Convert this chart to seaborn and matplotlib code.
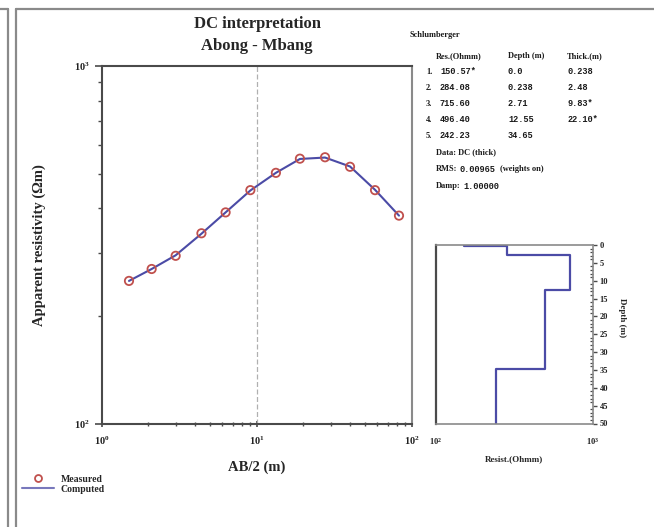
import numpy as np
import pandas as pd
import matplotlib
matplotlib.use("Agg")
import matplotlib.pyplot as plt
from matplotlib.lines import Line2D
from matplotlib.ticker import LogLocator, NullFormatter, FixedLocator, MultipleLocator
import seaborn as sns

# Sounding curve: half electrode spacing and apparent resistivity
ab2 = [1.5, 2.1, 3.0, 4.4, 6.3, 9.1, 13.3, 19.0, 27.6, 40.0, 58.0, 82.8]
rho_measured = [251, 271, 295, 341, 390, 450, 503, 551, 556, 523, 450, 382]
rho_computed = [251, 271, 296, 340, 390, 449, 503, 550, 555, 524, 451, 382]

# Layered model
layer_res = [150.57, 284.08, 715.60, 496.40, 242.23]
layer_depth = [0.0, 0.238, 2.71, 12.55, 34.65]
layer_thick = [0.238, 2.48, 9.83, 22.10]
res_fixed = [True, False, False, False, False]
thick_fixed = [False, False, True, True]
depth_str = ["0.0", "0.238", "2.71", "12.55", "34.65"]
thick_str = ["0.238", "2.48", "9.83", "22.10"]
max_depth = 50

rms = 0.00965
damp = 1.0

sns.set_theme(style="white")
plt.rcParams["font.family"] = ["Liberation Serif", "DejaVu Serif"]
plt.rcParams["mathtext.fontset"] = "custom"
plt.rcParams["mathtext.rm"] = "Liberation Serif:bold"
plt.rcParams["mathtext.it"] = "Liberation Serif:bold"
plt.rcParams["mathtext.bf"] = "Liberation Serif:bold"

W, H = 654, 527
fig = plt.figure(figsize=(W / 100, H / 100), dpi=100)
fig.patch.set_facecolor("white")


def px(x, y):
    return x / W, 1 - y / H


# page frame lines
frame_kw = dict(color="#8a8a8a", lw=1.6, transform=fig.transFigure)
fig.add_artist(Line2D([8 / W, 8 / W], [0, 1 - 9 / H], **frame_kw))
fig.add_artist(Line2D([0, 8 / W], [1 - 9 / H, 1 - 9 / H], **frame_kw))
fig.add_artist(Line2D([16 / W, 16 / W], [0, 1 - 9 / H], **frame_kw))
fig.add_artist(Line2D([16 / W, 1], [1 - 9 / H, 1 - 9 / H], **frame_kw))

line_color = "#4b4ba6"
marker_color = "#c0504d"
spine_color = "#4a4a4a"

# ---- sounding curve ----
ax = fig.add_axes([101.7 / W, 1 - 424 / H, 310 / W, 358 / H])
df = pd.DataFrame({"ab2": ab2, "measured": rho_measured, "computed": rho_computed})
sns.lineplot(data=df, x="ab2", y="computed", ax=ax, color=line_color, lw=1.5,
             sort=True, zorder=2)
sns.scatterplot(data=df, x="ab2", y="measured", ax=ax, marker="o", s=36,
                facecolor="none", edgecolor=marker_color, linewidth=1.3, zorder=3)
ax.set_xscale("log")
ax.set_yscale("log")
ax.set_xlim(1, 100)
ax.set_ylim(100, 1000)
ax.axvline(10, color="#b0b0b0", lw=0.9, ls=(0, (4, 2)), zorder=1)

ax.xaxis.set_major_locator(FixedLocator([1, 10, 100]))
ax.yaxis.set_major_locator(FixedLocator([100, 1000]))
ax.xaxis.set_minor_locator(LogLocator(base=10, subs=np.arange(2, 10)))
ax.yaxis.set_minor_locator(LogLocator(base=10, subs=np.arange(2, 10)))
ax.xaxis.set_minor_formatter(NullFormatter())
ax.yaxis.set_minor_formatter(NullFormatter())
ax.set_xticklabels([r"$10^0$", r"$10^1$", r"$10^2$"])
ax.set_yticklabels([r"$10^2$", r"$10^3$"])
ax.tick_params(axis="both", which="major", labelsize=7.5, colors=spine_color,
               labelcolor="#222222", length=5, width=1.2)
ax.tick_params(axis="x", which="both", direction="inout", bottom=True)
ax.tick_params(axis="x", which="minor", length=3, width=1.0, colors=spine_color)
ax.tick_params(axis="y", which="both", direction="out", left=True)
ax.tick_params(axis="y", which="minor", length=3, width=1.0, colors=spine_color)
ax.tick_params(axis="x", which="major", pad=5)
for sp in ax.spines.values():
    sp.set_color(spine_color)
    sp.set_linewidth(1.5)
ax.spines["right"].set_color("#8a8a8a")
ax.set_xlabel("AB/2 (m)", fontsize=10.5, fontweight="bold", labelpad=10)
ax.set_ylabel("Apparent resistivity (\u03a9m)", fontsize=10.5, fontweight="bold",
              labelpad=20)
ax.grid(False)

fig.text(*px(257, 24), "DC interpretation", ha="center", va="center",
         fontsize=12, fontweight="bold")
fig.text(*px(257, 46), "Abong - Mbang", ha="center", va="center",
         fontsize=12, fontweight="bold")

# legend
handles = [
    Line2D([], [], ls="none", marker="o", markersize=5, markerfacecolor="none",
           markeredgecolor=marker_color, markeredgewidth=1.3),
    Line2D([], [], color=line_color, lw=1.5, alpha=0.75),
]
fig.legend(handles, ["Measured", "Computed"], loc="upper left",
           bbox_to_anchor=px(15, 468), frameon=False,
           prop={"weight": "bold", "size": 7}, handlelength=3.3,
           handletextpad=0.7, labelspacing=0.1, borderpad=0.2)

# ---- layered model ----
ax2 = fig.add_axes([436 / W, 1 - 423.5 / H, 156.5 / W, 178.5 / H])
tops = layer_depth
bottoms = layer_depth[1:] + [max_depth]
xs, ys = [], []
for r, t, b in zip(layer_res, tops, bottoms):
    xs += [r, r]
    ys += [t, b]
model = pd.DataFrame({"res": xs, "depth": ys})
sns.lineplot(data=model, x="res", y="depth", ax=ax2, sort=False,
             estimator=None, color=line_color, lw=1.6)
ax2.set_xscale("log")
ax2.set_xlim(100, 1000)
ax2.set_ylim(max_depth, 0)
ax2.xaxis.set_major_locator(FixedLocator([100, 1000]))
ax2.xaxis.set_minor_locator(FixedLocator([]))
ax2.set_xticklabels([r"$10^2$", r"$10^3$"])
ax2.tick_params(axis="x", which="major", length=0, labelsize=6, pad=9,
                labelcolor="#222222")
ax2.yaxis.tick_right()
ax2.yaxis.set_major_locator(MultipleLocator(5))
ax2.yaxis.set_minor_locator(MultipleLocator(1))
ax2.tick_params(axis="y", which="major", direction="out", length=3, width=1.0,
                labelsize=6, pad=2, colors=spine_color, labelcolor="#222222")
ax2.tick_params(axis="y", which="minor", direction="in", length=2.5, width=0.9,
                colors=spine_color, right=True)
for lab in ax2.get_yticklabels():
    lab.set_fontweight("bold")
for sp in ax2.spines.values():
    sp.set_color("#8a8a8a")
    sp.set_linewidth(1.2)
ax2.spines["left"].set_color(spine_color)
ax2.spines["left"].set_linewidth(1.6)
ax2.set_xlabel("Resist.(Ohmm)", fontsize=6.5, fontweight="bold", labelpad=6)
ax2.set_ylabel("")
ax2.grid(False)
fig.text(*px(622, 318), "Depth (m)", rotation=270, ha="center", va="center",
         fontsize=6.5, fontweight="bold")

# ---- model table ----
tk = dict(fontsize=6, fontweight="bold", va="center", color="#1a1a1a")
mono = dict(fontsize=6.2, fontweight="bold", va="center", color="#1a1a1a",
            family=["Liberation Mono", "DejaVu Sans Mono"])
fig.text(*px(410, 35), "Schlumberger", **tk)
fig.text(*px(436, 56), "Res.(Ohmm)", **tk)
fig.text(*px(508, 56), "Depth (m)", **tk)
fig.text(*px(567, 56), "Thick.(m)", **tk)
row_y = [72, 88, 104, 120, 136]
for i, (r, d) in enumerate(zip(layer_res, depth_str)):
    y = row_y[i]
    fig.text(*px(426, y), f"{i + 1}.", **tk)
    fig.text(*px(440, y), f"{r:.2f}" + ("*" if res_fixed[i] else ""), **mono)
    fig.text(*px(508, y), d, **mono)
    if i < len(layer_thick):
        fig.text(*px(567, y), thick_str[i] + ("*" if thick_fixed[i] else ""), **mono)
fig.text(*px(436, 152), "Data: DC (thick)", **tk)
fig.text(*px(436, 169), "RMS:", **tk)
fig.text(*px(459, 169), f"{rms:.5f}", **mono)
fig.text(*px(500, 169), "(weights on)", **tk)
fig.text(*px(436, 186), "Damp:", **tk)
fig.text(*px(463, 186), f"{damp:.5f}", **mono)

fig.savefig("out.png", dpi=100, facecolor="white")
